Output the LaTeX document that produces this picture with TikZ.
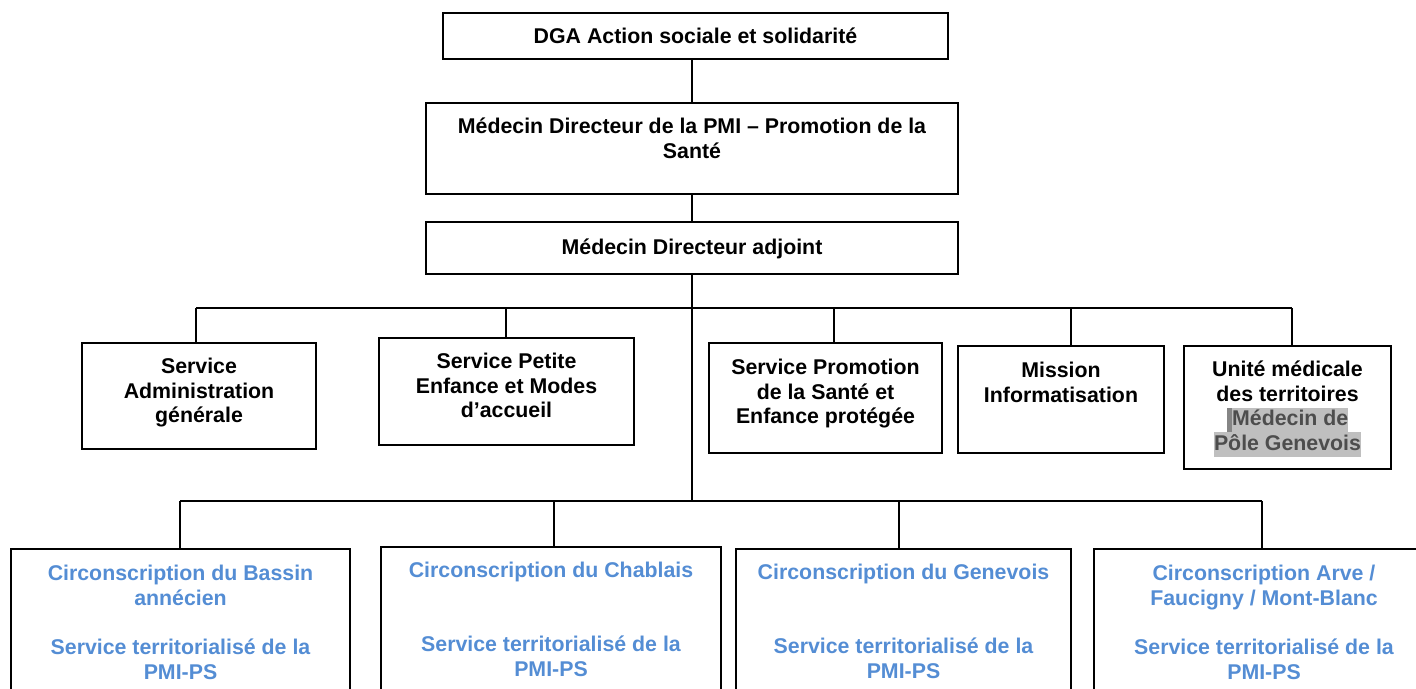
\documentclass[tikz,border=0pt]{standalone}
\usepackage{fontspec}
\setmainfont{Liberation Sans}
\definecolor{circblue}{HTML}{548DD4}
\definecolor{hl}{HTML}{BFBFBF}
\definecolor{hldark}{HTML}{858585}
\definecolor{hltext}{HTML}{4D4D4D}
\newcommand{\orgtext}[4]{\parbox[c][#2pt][t]{#1pt}{\centering\fontsize{21.33}{24.6}\selectfont\bfseries\vspace*{#3pt}\rule{0pt}{18pt}#4\par}}
\newcommand{\hlstrut}{\rule[-6.5pt]{0pt}{24.5pt}}
\tikzset{
  orgbox/.style={draw, line width=2pt, inner sep=0pt, outer sep=0pt, anchor=north west},
  link/.style={line width=1.6pt}
}
\begin{document}
\begin{tikzpicture}[x=1pt,y=-1pt]
\path[use as bounding box] (0,0) rectangle (1416,688);
\clip (0,0) rectangle (1416,688);
% top chain
\node[orgbox] (dga) at (443,13) {\orgtext{505}{46}{12.6}{DGA Action sociale et solidarité}};
\node[orgbox] (pmi) at (426,103) {\orgtext{532}{91}{12.6}{Médecin Directeur de la PMI – Promotion de la\\Santé}};
\node[orgbox] (adj) at (426,222) {\orgtext{532}{52}{14.6}{Médecin Directeur adjoint}};
% second row
\node[orgbox] (sA) at (82,343) {\orgtext{234}{106}{12.6}{Service\\Administration\\générale}};
\node[orgbox] (sB) at (379,338) {\orgtext{255}{107}{12.6}{Service Petite\\Enfance et Modes\\d’accueil}};
\node[orgbox] (sC) at (709,343) {\orgtext{233}{110}{13.6}{Service Promotion\\de la Santé et\\Enfance protégée}};
\node[orgbox] (sD) at (958,346) {\orgtext{206}{107}{13.6}{Mission\\Informatisation}};
\node[orgbox] (sE) at (1184,346) {\orgtext{207}{123}{12.6}{Unité médicale\\des territoires\\{\fboxsep=0pt\colorbox{hldark}{\hlstrut\hspace{5.5pt}}\colorbox{hl}{\hlstrut\color{hltext}Médecin de}}\\{\fboxsep=0pt\colorbox{hl}{\hlstrut\color{hltext}Pôle Genevois}}}};
% bottom row
\node[orgbox] (c1) at (11,549) {\orgtext{339}{160}{13.6}{\color{circblue}Circonscription du Bassin\\annécien\\[24.6pt]Service territorialisé de la\\PMI-PS}};
\node[orgbox] (c2) at (381,547) {\orgtext{340}{160}{12.6}{\color{circblue}Circonscription du Chablais\\[49.2pt]Service territorialisé de la\\PMI-PS}};
\node[orgbox] (c3) at (736,549) {\orgtext{335}{160}{12.6}{\color{circblue}Circonscription du Genevois\\[49.2pt]Service territorialisé de la\\PMI-PS}};
\node[orgbox] (c4) at (1094,549) {\orgtext{340}{160}{13.6}{\color{circblue}Circonscription Arve /\\Faucigny / Mont-Blanc\\[24.6pt]Service territorialisé de la\\PMI-PS}};
% trunk
\coordinate (tk) at (692,308);
\coordinate (tk2) at (692,501);
\draw[link] (dga.south -| tk) -- (pmi.north -| tk);
\draw[link] (pmi.south -| tk) -- (adj.north -| tk);
\draw[link] (adj.south -| tk) -- (tk2);
% first branch
\coordinate (bA) at (196,308);
\coordinate (bB) at (506,308);
\coordinate (bC) at (834,308);
\coordinate (bD) at (1071,308);
\coordinate (bE) at (1292,308);
\draw[link] (bA) -- (bE);
\draw[link] (bA) -- (bA |- sA.north);
\draw[link] (bB) -- (bB |- sB.north);
\draw[link] (bC) -- (bC |- sC.north);
\draw[link] (bD) -- (bD |- sD.north);
\draw[link] (bE) -- (bE |- sE.north);
% second branch
\coordinate (k1) at (180,501);
\coordinate (k2) at (554,501);
\coordinate (k3) at (899,501);
\coordinate (k4) at (1262,501);
\draw[link] (k1) -- (k4);
\draw[link] (k1) -- (k1 |- c1.north);
\draw[link] (k2) -- (k2 |- c2.north);
\draw[link] (k3) -- (k3 |- c3.north);
\draw[link] (k4) -- (k4 |- c4.north);
\end{tikzpicture}
\end{document}
